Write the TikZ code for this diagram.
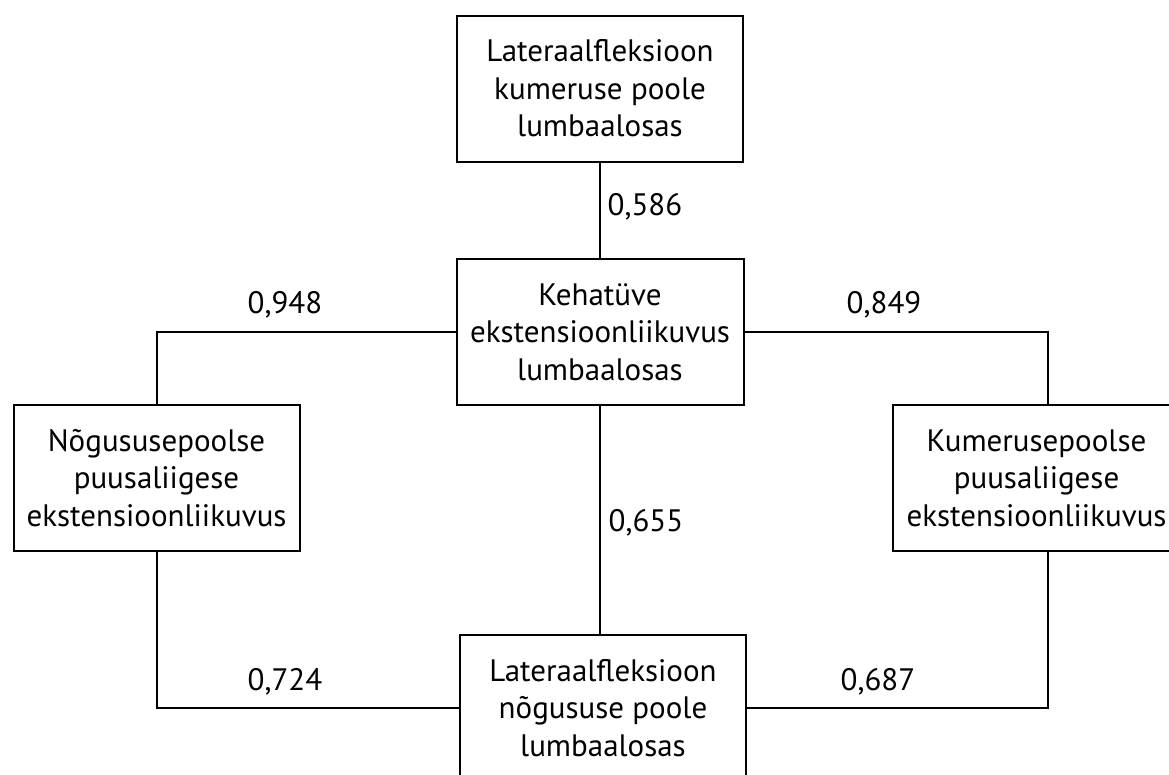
\documentclass[tikz,border=0pt]{standalone}
\usepackage{fontspec}
\setmainfont{PT Sans}
\begin{document}
\begin{tikzpicture}[x=1pt,y=-1pt,
  box/.style={draw,line width=2pt,rectangle,inner sep=0pt,align=center,
    minimum width=286pt,minimum height=146pt,
    font=\fontsize{31}{37.5}\selectfont},
  conn/.style={line width=2pt},
  lbl/.style={inner sep=0pt,font=\fontsize{31}{37.5}\selectfont}]
\clip (0,0) rectangle (1169,774);
\fill[white] (0,0) rectangle (1169,774);
\node[box] (t) at (600,88.5) {Lateraalfleksioon\\kumeruse poole\\lumbaalosas};
\node[box,minimum width=287pt] (c) at (600,332) {Kehatüve\\ekstensioonliikuvus\\lumbaalosas};
\node[box] (l) at (156.5,478) {Nõgususepoolse\\puusaliigese\\ekstensioonliikuvus};
\node[box,minimum width=287pt] (r) at (1036.5,478) {Kumerusepoolse\\puusaliigese\\ekstensioonliikuvus};
\node[box] (b) at (603,708) {Lateraalfleksioon\\nõgususe poole\\lumbaalosas};
\coordinate (rt) at (1048,405);
\coordinate (rb) at (1048,551);
\draw[conn] (t.south) -- (c.north);
\draw[conn] (c.south -| t.south) -- (b.north -| t.south);
\draw[conn] (c.west) -| (l.north);
\draw[conn] (c.east) -| (rt);
\draw[conn] (l.south) |- (b.west);
\draw[conn] (rb) |- (b.east);
\node[lbl] (v1) at (645,207) {0,586};
\node[lbl] (v2) at (285,305) {0,948};
\node[lbl] (v3) at (884,305) {0,849};
\node[lbl] (v4) at (646,523) {0,655};
\node[lbl] (v5) at (285,682) {0,724};
\node[lbl] (v6) at (878,682) {0,687};
\end{tikzpicture}
\end{document}
